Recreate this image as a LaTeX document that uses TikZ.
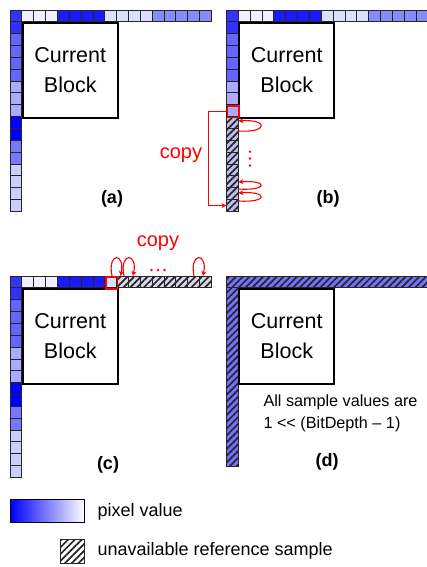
\documentclass[tikz,border=0pt]{standalone}
\usepackage{fontspec}
\setmainfont{Liberation Sans}
\usetikzlibrary{patterns.meta,arrows.meta}
\definecolor{rA}{RGB}{51,51,255}
\definecolor{rVL}{RGB}{240,240,255}
\definecolor{rD}{RGB}{26,26,255}
\definecolor{rL}{RGB}{222,222,255}
\definecolor{rM}{RGB}{138,138,255}
\definecolor{cOne}{RGB}{48,48,255}
\definecolor{cMed}{RGB}{100,100,255}
\definecolor{cLt}{RGB}{170,170,255}
\definecolor{cDk}{RGB}{0,0,255}
\definecolor{cMedB}{RGB}{120,120,255}
\definecolor{cVL}{RGB}{205,205,255}
\definecolor{hbB}{RGB}{190,190,240}
\definecolor{hbC}{RGB}{216,216,232}
\definecolor{hbD}{RGB}{114,114,255}
\tikzset{
  cell/.style={draw=black!85, line width=0.9pt},
  hatched/.style={draw=black!85, line width=0.9pt, preaction={fill=#1},
    pattern={Lines[angle=45,distance=4.8pt,line width=1.7pt]}, pattern color=black!85},
  blockbox/.style={draw=black, line width=2pt, fill=white, inner sep=0pt,
    minimum width=94.8pt, minimum height=94.8pt, anchor=north west,
    font=\fontsize{21.5}{30}\selectfont, align=center},
  sublabel/.style={font=\fontsize{18}{20}\selectfont\bfseries},
  redtxt/.style={text=red, font=\fontsize{20}{22}\selectfont},
  redcell/.style={draw=red, line width=1.8pt, minimum size=11.85pt, inner sep=0pt, anchor=north west},
  copyarrow/.style={red, line width=1.1pt, -{Stealth[length=5pt,width=5pt]}},
  legtxt/.style={font=\fontsize{18}{20}\selectfont, anchor=west},
}
\begin{document}
\begin{tikzpicture}[x=1pt,y=-1pt]
\useasboundingbox (0,0) rectangle (426,567);
\def\s{11.85}
% ---------- panel (a)
\foreach \c [count=\i from 0] in {rA,rVL,rVL,rVL,rD,rD,rD,rD,rL,rL,rL,rL,rM,rM,rM,rM,rM}
  \draw[cell,fill=\c] ({10+\i*\s},10) rectangle ++(\s,\s);
\foreach \c [count=\i from 1] in {cOne,cMed,cMed,cMed,cMed,cLt,cLt,cLt,cDk,cDk,cMedB,cMedB,cVL,cVL,cVL,cVL}
  \draw[cell,fill=\c] (10,{10+\i*\s}) rectangle ++(\s,\s);
\node[blockbox] (boxa) at (21.85,21.85) {Current\\Block};
\node[sublabel] (laba) at (112,199) {(a)};
% ---------- panel (b)
\foreach \c [count=\i from 0] in {rA,rVL,rVL,rVL,rD,rD,rD,rD,rL,rL,rL,rL,rM,rM,rM,rM,rM}
  \draw[cell,fill=\c] ({226.5+\i*\s},10) rectangle ++(\s,\s);
\foreach \c [count=\i from 1] in {cOne,cMed,cMed,cMed,cMed,cLt,cLt,cLt}
  \draw[cell,fill=\c] (226.5,{10+\i*\s}) rectangle ++(\s,\s);
\foreach \i in {9,...,16}
  \draw[hatched=hbB] (226.5,{10+\i*\s}) rectangle ++(\s,\s);
\node[blockbox] (boxb) at (238.35,21.85) {Current\\Block};
\node[redcell] (redb) at (226.5,{10+8*\s}) {};
\coordinate (lastb) at (226.5,{10+16.5*\s});
\draw[red, line width=1pt, -{Stealth[length=5pt,width=5pt]}] (redb.west) -- ++(-18.5,0) |- (lastb);
\node[redtxt] (copyb) at (181,155) {copy};
\coordinate (b1s) at (238.35,131); \coordinate (b1e) at (238.35,121);
\coordinate (b2s) at (238.35,189); \coordinate (b2e) at (238.35,182);
\coordinate (b3s) at (238.35,201); \coordinate (b3e) at (238.35,193);
\draw[copyarrow] (b1s) .. controls +(30,2) and +(30,-2) .. (b1e);
\draw[copyarrow] (b2s) .. controls +(30,2) and +(30,-2) .. (b2e);
\draw[copyarrow] (b3s) .. controls +(30,2) and +(30,-2) .. (b3e);
\foreach \y in {151.7,158.5,165.5} \fill[red] (250,\y) circle (1.3);
\node[sublabel] (labb) at (328,199) {(b)};
% ---------- panel (c)
\foreach \c [count=\i from 0] in {rA,rVL,rVL,rVL,rD,rD,rD,rD,rL}
  \draw[cell,fill=\c] ({10+\i*\s},276) rectangle ++(\s,\s);
\foreach \i in {9,...,16}
  \draw[hatched=hbC] ({10+\i*\s},276) rectangle ++(\s,\s);
\foreach \c [count=\i from 1] in {cOne,cMed,cMed,cMed,cMed,cLt,cLt,cLt,cDk,cDk,cMedB,cMedB,cVL,cVL,cVL,cVL}
  \draw[cell,fill=\c] (10,{276+\i*\s}) rectangle ++(\s,\s);
\node[blockbox] (boxc) at (21.85,287.85) {Current\\Block};
\node[redcell] (redc) at ({10+8*\s},276) {};
\coordinate (c1s) at (112,276); \coordinate (c1e) at (120.5,276);
\coordinate (c2s) at (124,276); \coordinate (c2e) at (133,276);
\coordinate (c3s) at (194,276); \coordinate (c3e) at (203,276);
\draw[copyarrow] (c1s) .. controls +(-5,-24) and +(5,-24) .. (c1e);
\draw[copyarrow] (c2s) .. controls +(-5,-24) and +(5,-24) .. (c2e);
\draw[copyarrow] (c3s) .. controls +(-5,-24) and +(5,-24) .. (c3e);
\foreach \x in {151.5,158,164.5} \fill[red] (\x,270) circle (1.3);
\node[redtxt] (copyc) at (158,243) {copy};
\node[sublabel] (labc) at (108,465) {(c)};
% ---------- panel (d)
\draw[hatched=hbD] (226.5,276) rectangle (430,287.85);
\draw[hatched=hbD] (226.5,287.85) rectangle (238.35,466);
\node[blockbox] (boxd) at (238.35,287.85) {Current\\Block};
\node[font=\fontsize{16.2}{22}\selectfont, align=left, anchor=west] (noted) at (260,413)
  {All sample values are\\1 <{}< (BitDepth – 1)};
\node[sublabel] (labd) at (327,462) {(d)};
% ---------- legend
\node[draw=black, line width=1.3pt, left color=blue, middle color=blue!35, right color=white,
  minimum width=74pt, minimum height=23pt, inner sep=0pt, anchor=north west] (leggrad) at (10,499) {};
\node[legtxt] (legpix) at (94,512) {pixel value};
\draw[hatched=white] (60,539) rectangle (84,563);
\coordinate (leghat) at (84,551);
\node[legtxt] (legun) at (94,551) {unavailable reference sample};
\end{tikzpicture}
\end{document}
